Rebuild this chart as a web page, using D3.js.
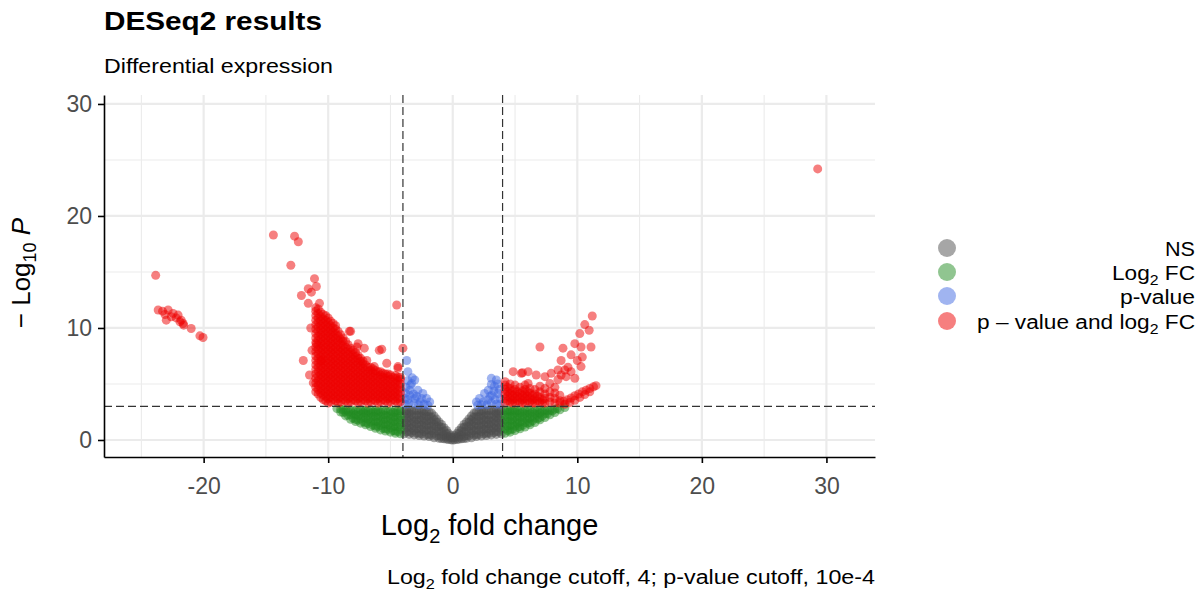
<html lang="en">
<head>
<meta charset="UTF-8">
<title>DESeq2 results</title>
<style>
  body { margin: 0; background: #fff; }
  text { font-family: "Liberation Sans", Arial, Helvetica, sans-serif; }
</style>
</head>
<body>
<script src="https://d3js.org/d3.v7.min.js"></script>
<script>
// axis ticks
const xTicks = [-20, -10, 0, 10, 20, 30];
const xMinor = [-25, -15, -5, 5, 15, 25];
const yTicks = [0, 10, 20, 30];
const yMinor = [5, 15, 25];
const fcCutoff = 4;
const pCutoff = 3; // -log10(10e-4)

// legend categories
const categories = ["NS", "Log2 FC", "p-value", "p \u2013 value and log2 FC"];
const catColors = ["#4d4d4d", "#228b22", "#4169e1", "#ee0000"];
const legendWidths = [30, 83, 75, 218];

// NS points, columns of [log2FC, [-log10 p ...]]
const nsCols = [
  [-3.9, [0.55, 0.95, 1.35, 1.75, 2.15, 2.6]],
  [-3.7, [0.72, 1.12, 1.52, 1.92, 2.32, 2.62]],
  [-3.5, [0.5, 0.75, 1.15, 1.55, 1.95, 2.35, 2.65]],
  [-3.3, [0.66, 1.06, 1.46, 1.86, 2.26, 2.62]],
  [-3.1, [0.45, 0.85, 1.25, 1.65, 2.05, 2.6]],
  [-2.9, [0.61, 1.01, 1.41, 1.81, 2.21, 2.62]],
  [-2.7, [0.4, 0.6, 1.0, 1.4, 1.8, 2.2, 2.6]],
  [-2.5, [0.55, 0.95, 1.35, 1.75, 2.15, 2.55]],
  [-2.3, [0.35, 0.75, 1.15, 1.55, 1.95, 2.35, 2.65]],
  [-2.1, [0.5, 0.9, 1.3, 1.7, 2.1, 2.5]],
  [-1.9, [0.3, 0.5, 0.9, 1.3, 1.7, 2.1, 2.5]],
  [-1.7, [0.44, 0.84, 1.24, 1.64, 2.04, 2.4]],
  [-1.5, [0.2, 0.6, 1.0, 1.4, 1.8, 2.15]],
  [-1.3, [0.38, 0.78, 1.18, 1.58, 1.88]],
  [-1.1, [0.15, 0.4, 0.8, 1.2, 1.6]],
  [-0.9, [0.13, 0.33, 0.73, 1.13, 1.38]],
  [-0.7, [0.1, 0.45, 0.8, 1.1]],
  [-0.5, [0.07, 0.27, 0.55, 0.85]],
  [-0.35, [0.05, 0.3, 0.6]],
  [-0.15, [0.02, 0.22, 0.4]],
  [0, [0.0, 0.2]],
  [0.15, [0.02, 0.22, 0.4]],
  [0.35, [0.05, 0.3, 0.6]],
  [0.5, [0.07, 0.27, 0.55, 0.85]],
  [0.7, [0.1, 0.45, 0.8, 1.1]],
  [0.9, [0.13, 0.33, 0.73, 1.13, 1.38]],
  [1.1, [0.15, 0.4, 0.8, 1.2, 1.6]],
  [1.3, [0.38, 0.78, 1.18, 1.58, 1.88]],
  [1.5, [0.2, 0.6, 1.0, 1.4, 1.8, 2.15]],
  [1.7, [0.44, 0.84, 1.24, 1.64, 2.04, 2.4]],
  [1.9, [0.3, 0.5, 0.9, 1.3, 1.7, 2.1, 2.5]],
  [2.1, [0.5, 0.9, 1.3, 1.7, 2.1, 2.5]],
  [2.3, [0.35, 0.75, 1.15, 1.55, 1.95, 2.35, 2.65]],
  [2.5, [0.55, 0.95, 1.35, 1.75, 2.15, 2.55]],
  [2.7, [0.4, 0.6, 1.0, 1.4, 1.8, 2.2, 2.6]],
  [2.9, [0.61, 1.01, 1.41, 1.81, 2.21, 2.62]],
  [3.1, [0.45, 0.85, 1.25, 1.65, 2.05, 2.6]],
  [3.3, [0.66, 1.06, 1.46, 1.86, 2.26, 2.62]],
  [3.5, [0.5, 0.75, 1.15, 1.55, 1.95, 2.35, 2.65]],
  [3.7, [0.72, 1.12, 1.52, 1.92, 2.32, 2.62]],
  [3.9, [0.55, 0.95, 1.35, 1.75, 2.15, 2.6]]
];

// Log2 FC only points
const fcCols = [
  [-4.2, [0.55, 0.95, 1.35, 1.75, 2.15, 2.6]],
  [-4.4, [0.75, 1.15, 1.55, 1.95, 2.35, 2.65]],
  [-4.6, [0.6, 0.8, 1.2, 1.6, 2.0, 2.4, 2.65]],
  [-4.8, [0.85, 1.25, 1.65, 2.05, 2.45]],
  [-5.0, [0.7, 1.1, 1.5, 1.9, 2.3, 2.6]],
  [-5.2, [0.95, 1.35, 1.75, 2.15, 2.55]],
  [-5.4, [0.8, 1.0, 1.4, 1.8, 2.2, 2.6]],
  [-5.6, [1.05, 1.45, 1.85, 2.25, 2.62]],
  [-5.8, [0.9, 1.3, 1.7, 2.1, 2.5]],
  [-6.0, [1.2, 1.6, 2.0, 2.4, 2.65]],
  [-6.2, [1.05, 1.25, 1.65, 2.05, 2.45, 2.65]],
  [-6.4, [1.32, 1.72, 2.12, 2.5]],
  [-6.6, [1.2, 1.6, 2.0, 2.4, 2.65]],
  [-6.8, [1.47, 1.87, 2.27, 2.62]],
  [-7.0, [1.35, 1.55, 1.95, 2.35, 2.65]],
  [-7.2, [1.62, 2.02, 2.42, 2.65]],
  [-7.4, [1.5, 1.9, 2.3, 2.65]],
  [-7.6, [1.78, 2.18, 2.55]],
  [-7.8, [1.65, 1.85, 2.25, 2.6]],
  [-8.0, [1.95, 2.35, 2.65]],
  [-8.2, [1.85, 2.25, 2.6]],
  [-8.4, [2.2, 2.55]],
  [-8.6, [2.15, 2.5, 2.7]],
  [-8.8, [2.45, 2.7]],
  [-9.0, [2.5, 2.75]],
  [-9.3, [2.8]],
  [4.2, [0.6, 1.0, 1.4, 1.8, 2.2, 2.6]],
  [4.4, [0.85, 1.25, 1.65, 2.05, 2.45, 2.65]],
  [4.6, [0.7, 0.9, 1.3, 1.7, 2.1, 2.5, 2.65]],
  [4.8, [0.98, 1.38, 1.78, 2.18, 2.58]],
  [5.0, [0.85, 1.25, 1.65, 2.05, 2.45, 2.65]],
  [5.2, [1.12, 1.52, 1.92, 2.32, 2.65]],
  [5.4, [1.0, 1.2, 1.6, 2.0, 2.4, 2.65]],
  [5.6, [1.3, 1.7, 2.1, 2.5]],
  [5.8, [1.15, 1.55, 1.95, 2.35, 2.65]],
  [6.0, [1.5, 1.9, 2.3, 2.65]],
  [6.2, [1.35, 1.55, 1.95, 2.35, 2.65]],
  [6.4, [1.7, 2.1, 2.5]],
  [6.6, [1.55, 1.95, 2.35, 2.65]],
  [6.8, [1.9, 2.3, 2.65]],
  [7.0, [1.8, 2.0, 2.4, 2.65]],
  [7.2, [2.15, 2.55]],
  [7.4, [2.0, 2.35, 2.65]],
  [7.6, [2.35, 2.65]],
  [7.8, [2.25, 2.6]],
  [8.0, [2.6]],
  [8.2, [2.45, 2.75]],
  [8.4, [2.8]],
  [8.6, [2.7]],
  [9.0, [2.9]]
];

// p-value only points [log2FC, -log10 p]
const pPoints = [
  [-3.7, 7.1], [-3.6, 6.1], [-3.05, 5.35], [-3.3, 5.05], [-2.8, 4.45], [-2.4, 4.15],
  [-2.1, 3.7], [-1.85, 3.4], [-3.45, 4.45], [-3.6, 3.6], [-3.05, 3.7], [-2.6, 3.4],
  [-3.8, 3.2], [-3.8, 3.7], [-3.8, 4.2], [-3.75, 4.7], [-3.5, 3.25], [-3.45, 4.0],
  [-3.4, 4.9], [-3.1, 3.3], [-3.15, 4.1], [-2.9, 3.9], [-2.75, 3.15], [-2.5, 3.7],
  [-2.3, 3.2], [-2.0, 3.1], [-3.6, 5.3], [-3.25, 5.55],
  [3.1, 5.5], [3.5, 5.35], [3.1, 4.95], [3.35, 4.8], [2.85, 4.45], [2.55, 4.15],
  [2.15, 3.7], [1.9, 3.4], [3.65, 4.15], [3.4, 3.6], [2.85, 3.6], [2.45, 3.4],
  [3.8, 3.2], [3.8, 3.7], [3.75, 4.5], [3.6, 5.0], [3.5, 3.2], [3.1, 3.3],
  [3.15, 4.0], [2.75, 3.15], [2.3, 3.15], [2.0, 3.1], [3.0, 3.9], [3.3, 4.35]
];

// p-value and log2 FC points, dense part as columns
const sigCols = [
  [-11.0, [4.3, 4.7, 5.1, 5.5, 5.9, 6.3, 6.7, 7.1, 7.5, 7.9, 8.3, 8.7, 9.1, 9.5, 9.9, 10.3, 10.7, 11.1, 11.5, 11.8]],
  [-10.8, [4.1, 4.5, 4.9, 5.3, 5.7, 6.1, 6.5, 6.9, 7.3, 7.7, 8.1, 8.5, 8.9, 9.3, 9.7, 10.1, 10.5, 10.9, 11.3, 11.7]],
  [-10.6, [3.8, 4.2, 4.6, 5.0, 5.4, 5.8, 6.2, 6.6, 7.0, 7.4, 7.8, 8.2, 8.6, 9.0, 9.4, 9.8, 10.2, 10.6, 11.0, 11.4]],
  [-10.4, [3.6, 4.0, 4.4, 4.8, 5.2, 5.6, 6.0, 6.4, 6.8, 7.2, 7.6, 8.0, 8.4, 8.8, 9.2, 9.6, 10.0, 10.4, 10.8, 11.2]],
  [-10.2, [3.5, 3.9, 4.3, 4.7, 5.1, 5.5, 5.9, 6.3, 6.7, 7.1, 7.5, 7.9, 8.3, 8.7, 9.1, 9.5, 9.9, 10.3, 10.7, 11.1]],
  [-10.0, [3.3, 3.7, 4.1, 4.5, 4.9, 5.3, 5.7, 6.1, 6.5, 6.9, 7.3, 7.7, 8.1, 8.5, 8.9, 9.3, 9.7, 10.1, 10.5, 10.9]],
  [-9.8, [3.4, 3.8, 4.2, 4.6, 5.0, 5.4, 5.8, 6.2, 6.6, 7.0, 7.4, 7.8, 8.2, 8.6, 9.0, 9.4, 9.8, 10.2, 10.6]],
  [-9.6, [3.6, 4.0, 4.4, 4.8, 5.2, 5.6, 6.0, 6.4, 6.8, 7.2, 7.6, 8.0, 8.4, 8.8, 9.2, 9.6, 10.0, 10.4]],
  [-9.4, [3.5, 3.9, 4.3, 4.7, 5.1, 5.5, 5.9, 6.3, 6.7, 7.1, 7.5, 7.9, 8.3, 8.7, 9.1, 9.5, 9.9, 10.2]],
  [-9.2, [3.3, 3.7, 4.1, 4.5, 4.9, 5.3, 5.7, 6.1, 6.5, 6.9, 7.3, 7.7, 8.1, 8.5, 8.9, 9.3, 9.7]],
  [-9.0, [3.4, 3.8, 4.2, 4.6, 5.0, 5.4, 5.8, 6.2, 6.6, 7.0, 7.4, 7.8, 8.2, 8.6, 9.0, 9.4]],
  [-8.8, [3.6, 4.0, 4.4, 4.8, 5.2, 5.6, 6.0, 6.4, 6.8, 7.2, 7.6, 8.0, 8.4, 8.8, 9.1]],
  [-8.6, [3.5, 3.9, 4.3, 4.7, 5.1, 5.5, 5.9, 6.3, 6.7, 7.1, 7.5, 7.9, 8.3, 8.8]],
  [-8.4, [3.3, 3.7, 4.1, 4.5, 4.9, 5.3, 5.7, 6.1, 6.5, 6.9, 7.3, 7.7, 8.1, 8.5]],
  [-8.2, [3.4, 3.8, 4.2, 4.6, 5.0, 5.4, 5.8, 6.2, 6.6, 7.0, 7.4, 7.8, 8.2]],
  [-8.0, [3.6, 4.0, 4.4, 4.8, 5.2, 5.6, 6.0, 6.4, 6.8, 7.2, 7.6, 8.0]],
  [-7.8, [3.5, 3.9, 4.3, 4.7, 5.1, 5.5, 5.9, 6.3, 6.7, 7.1, 7.5, 7.8]],
  [-7.6, [3.3, 3.7, 4.1, 4.5, 4.9, 5.3, 5.7, 6.1, 6.5, 6.9, 7.3, 7.55]],
  [-7.4, [3.4, 3.8, 4.2, 4.6, 5.0, 5.4, 5.8, 6.2, 6.6, 7.0, 7.3]],
  [-7.2, [3.6, 4.0, 4.4, 4.8, 5.2, 5.6, 6.0, 6.4, 6.8, 7.05]],
  [-7.0, [3.5, 3.9, 4.3, 4.7, 5.1, 5.5, 5.9, 6.3, 6.7]],
  [-6.8, [3.3, 3.7, 4.1, 4.5, 4.9, 5.3, 5.7, 6.1, 6.5]],
  [-6.6, [3.4, 3.8, 4.2, 4.6, 5.0, 5.4, 5.8, 6.2, 6.5]],
  [-6.4, [3.6, 4.0, 4.4, 4.8, 5.2, 5.6, 6.0, 6.35]],
  [-6.2, [3.5, 3.9, 4.3, 4.7, 5.1, 5.5, 5.9, 6.2]],
  [-6.0, [3.3, 3.7, 4.1, 4.5, 4.9, 5.3, 5.7, 6.1]],
  [-5.8, [3.4, 3.8, 4.2, 4.6, 5.0, 5.4, 5.8, 6.1]],
  [-5.6, [3.6, 4.0, 4.4, 4.8, 5.2, 5.6, 5.95]],
  [-5.4, [3.5, 3.9, 4.3, 4.7, 5.1, 5.5, 5.9]],
  [-5.2, [3.3, 3.7, 4.1, 4.5, 4.9, 5.3, 5.7, 5.9]],
  [-5.0, [3.4, 3.8, 4.2, 4.6, 5.0, 5.4, 5.8]],
  [-4.8, [3.6, 4.0, 4.4, 4.8, 5.2, 5.6]],
  [-4.6, [3.5, 3.9, 4.3, 4.7, 5.1, 5.5, 5.75]],
  [-4.4, [3.3, 3.7, 4.1, 4.5, 4.9, 5.3, 5.6]],
  [-4.2, [3.4, 3.8, 4.2, 4.6, 5.0, 5.4, 5.6]],
  [4.2, [3.3, 3.7, 4.1, 4.5, 4.9, 5.2]],
  [4.4, [3.5, 3.9, 4.3, 4.7]],
  [4.6, [3.4, 3.8, 4.2, 4.6, 5.0]],
  [4.8, [3.3, 3.6, 4.0, 4.4]],
  [5.0, [3.3, 3.7, 4.1, 4.5, 4.9]],
  [5.2, [3.5, 3.9, 4.3]],
  [5.4, [3.4, 3.8, 4.2, 4.7]],
  [5.6, [3.3, 3.6, 4.0, 4.4]],
  [5.8, [3.3, 3.7, 4.1, 4.5, 4.9]],
  [6.0, [3.5, 3.9, 4.3]],
  [6.2, [3.4, 3.8, 4.2, 4.6]],
  [6.4, [3.3, 3.6, 4.0]],
  [6.6, [3.3, 3.7, 4.1, 4.5]],
  [6.8, [3.5, 3.9]],
  [7.0, [3.4, 3.8, 4.3, 4.8]],
  [7.2, [3.3, 3.6]],
  [7.4, [3.3, 3.7, 4.1, 4.6]],
  [7.8, [3.4, 3.8, 4.3]],
  [8.2, [3.3, 3.7, 4.2, 4.7]],
  [8.6, [3.5, 4.0]]
];

// p-value and log2 FC, scattered points
const sigPoints = [
  [-23.85, 14.7], [-23.65, 11.6], [-23.3, 11.5], [-22.85, 11.6], [-23.1, 11.2], [-22.6, 11.0],
  [-22.45, 11.3], [-22.2, 10.9], [-22.05, 11.15], [-21.9, 10.55], [-21.8, 10.7], [-23.0, 10.7],
  [-21.6, 10.25], [-21.65, 10.4], [-21.0, 9.95], [-20.3, 9.3], [-20.05, 9.15],
  [-14.4, 18.3], [-12.7, 18.2], [-12.4, 17.7], [-13.0, 15.6], [-11.1, 14.4], [-11.6, 13.5],
  [-10.95, 13.7], [-11.35, 13.2], [-12.15, 12.9], [-11.6, 12.2], [-10.7, 12.2], [-4.5, 12.05],
  [-8.3, 9.7], [-7.6, 8.6], [-7.1, 8.2], [-7.7, 8.3], [-5.9, 8.0], [-5.7, 8.1], [-4.0, 8.2],
  [-12.0, 7.1], [-10.95, 8.6], [-10.55, 7.1], [-11.5, 5.8], [-11.2, 5.1], [-5.3, 6.85],
  [-4.4, 6.4], [-6.3, 6.55], [-6.9, 7.1], [-8.2, 9.7], [-4.4, 6.55], [-11.4, 10.0], [-11.3, 8.0],
  [29.3, 24.2],
  [11.2, 11.07], [10.6, 10.3], [10.95, 9.8], [10.2, 9.5], [9.8, 8.6], [10.3, 8.3], [11.1, 8.3],
  [8.85, 8.2], [7.0, 8.3], [9.5, 7.6], [10.4, 7.4], [8.7, 7.1], [10.0, 7.1], [10.3, 6.55],
  [9.0, 6.25], [8.45, 6.25], [4.85, 6.1], [5.5, 5.95], [6.05, 6.1], [6.7, 5.8], [7.4, 5.65],
  [7.9, 5.95], [8.7, 5.8], [9.1, 5.65], [8.45, 5.4], [6.05, 5.05], [7.8, 5.05], [9.8, 5.5],
  [9.25, 6.5], [9.5, 6.1], [5.6, 6.0],
  [8.6, 3.3], [8.9, 3.45], [9.2, 3.6], [9.5, 3.75], [9.8, 3.95], [10.1, 4.1], [10.4, 4.3],
  [10.7, 4.45], [11.0, 4.6], [11.3, 4.75], [11.5, 4.85], [9.0, 3.2], [9.4, 3.35], [9.8, 3.55],
  [10.2, 3.8], [10.6, 4.05], [11.0, 4.3]
];

const W = 1204, H = 594;
const panel = { l: 104, r: 875, t: 95, b: 457 };

const svg = d3.select("body").append("svg")
  .attr("width", W)
  .attr("height", H);

const x = d3.scaleLinear().domain([-28.0, 33.9]).range([panel.l, panel.r]);
const y = d3.scaleLinear().domain([-1.52, 30.8]).range([panel.b, panel.t]);

// grid
const grid = svg.append("g");
grid.selectAll(".xminor").data(xMinor).enter().append("line")
  .attr("x1", d => x(d)).attr("x2", d => x(d)).attr("y1", panel.t).attr("y2", panel.b)
  .attr("stroke", "#ebebeb").attr("stroke-width", 1.1);
grid.selectAll(".yminor").data(yMinor).enter().append("line")
  .attr("x1", panel.l).attr("x2", panel.r).attr("y1", d => y(d)).attr("y2", d => y(d))
  .attr("stroke", "#ebebeb").attr("stroke-width", 1.1);
grid.selectAll(".xmajor").data(xTicks).enter().append("line")
  .attr("x1", d => x(d)).attr("x2", d => x(d)).attr("y1", panel.t).attr("y2", panel.b)
  .attr("stroke", "#ebebeb").attr("stroke-width", 2.2);
grid.selectAll(".ymajor").data(yTicks).enter().append("line")
  .attr("x1", panel.l).attr("x2", panel.r).attr("y1", d => y(d)).attr("y2", d => y(d))
  .attr("stroke", "#ebebeb").attr("stroke-width", 2.2);

// points
const colsToPoints = cols => cols.flatMap(c => c[1].map(v => [c[0], v]));
const layers = [
  { pts: colsToPoints(nsCols), color: catColors[0] },
  { pts: colsToPoints(fcCols), color: catColors[1] },
  { pts: pPoints, color: catColors[2] },
  { pts: colsToPoints(sigCols).concat(sigPoints), color: catColors[3] }
];
layers.forEach(l => {
  svg.append("g").selectAll("circle")
    .data(l.pts)
    .enter()
    .append("circle")
    .attr("cx", d => x(d[0]))
    .attr("cy", d => y(d[1]))
    .attr("r", 4.5)
    .attr("fill", l.color)
    .attr("fill-opacity", 0.5);
});

// cutoff lines
const cut = svg.append("g").attr("stroke", "#333").attr("stroke-width", 1.2).attr("stroke-dasharray", "8,4");
[-fcCutoff, fcCutoff].forEach(v => {
  cut.append("line").attr("x1", x(v)).attr("x2", x(v)).attr("y1", panel.t).attr("y2", panel.b);
});
cut.append("line").attr("x1", panel.l).attr("x2", panel.r).attr("y1", y(pCutoff)).attr("y2", y(pCutoff));

// axes
const xAxis = d3.axisBottom(x).tickValues(xTicks).tickFormat(d => String(d))
  .tickSize(6).tickSizeOuter(0).tickPadding(15);
const yAxis = d3.axisLeft(y).tickValues(yTicks).tickFormat(d => String(d))
  .tickSize(6).tickSizeOuter(0).tickPadding(6);

const gx = svg.append("g").attr("transform", "translate(0," + panel.b + ")").call(xAxis);
const gy = svg.append("g").attr("transform", "translate(" + panel.l + ",0)").call(yAxis);
[gx, gy].forEach(g => {
  g.select(".domain").attr("stroke", "#000").attr("stroke-width", 1.6);
  g.selectAll(".tick line").attr("stroke", "#000").attr("stroke-width", 1.6);
  g.selectAll(".tick text").attr("fill", "#4d4d4d").style("font-size", "23px")
    .style("font-family", "'Liberation Sans', Arial, sans-serif");
});

// titles
svg.append("text").attr("x", panel.l).attr("y", 30)
  .style("font-size", "25px").style("font-weight", "bold")
  .attr("textLength", 218).attr("lengthAdjust", "spacingAndGlyphs")
  .text("DESeq2 results");
svg.append("text").attr("x", panel.l).attr("y", 73)
  .style("font-size", "20px")
  .attr("textLength", 229).attr("lengthAdjust", "spacingAndGlyphs")
  .text("Differential expression");

// x axis title
const xt = svg.append("text").attr("x", (panel.l + panel.r) / 2).attr("y", 535)
  .attr("text-anchor", "middle").style("font-size", "29px");
xt.append("tspan").text("Log");
xt.append("tspan").attr("dy", 8).style("font-size", "20px").text("2");
xt.append("tspan").attr("dy", -8).text(" fold change");

// y axis title
const yt = svg.append("text")
  .attr("transform", "translate(30," + 273 + ") rotate(-90)")
  .attr("text-anchor", "middle").style("font-size", "26px");
yt.append("tspan").text("\u2212 Log");
yt.append("tspan").attr("dy", 6).style("font-size", "18px").text("10");
yt.append("tspan").attr("dy", -6).text(" ");
yt.append("tspan").style("font-style", "italic").text("P");

// caption
const cap = svg.append("text").attr("x", panel.r).attr("y", 584)
  .attr("text-anchor", "end").style("font-size", "20px")
  .attr("textLength", 488).attr("lengthAdjust", "spacingAndGlyphs");
cap.append("tspan").text("Log");
cap.append("tspan").attr("dy", 5).style("font-size", "14px").text("2");
cap.append("tspan").attr("dy", -5).text(" fold change cutoff, 4; p-value cutoff, 10e-4");

// legend
const legY = [248, 272, 296, 321];
const leg = svg.append("g");
categories.forEach((c, i) => {
  leg.append("circle").attr("cx", 947).attr("cy", legY[i]).attr("r", 9)
    .attr("fill", catColors[i]).attr("fill-opacity", 0.5);
  const t = leg.append("text").attr("x", 1195).attr("y", legY[i] + 8)
    .attr("text-anchor", "end").style("font-size", "20px")
    .attr("textLength", legendWidths[i]).attr("lengthAdjust", "spacingAndGlyphs");
  if (c.indexOf("2") >= 0) {
    const parts = c.split("2");
    t.append("tspan").text(parts[0]);
    t.append("tspan").attr("dy", 5).style("font-size", "14px").text("2");
    t.append("tspan").attr("dy", -5).text(parts[1]);
  } else {
    t.text(c);
  }
});
</script>
</body>
</html>
